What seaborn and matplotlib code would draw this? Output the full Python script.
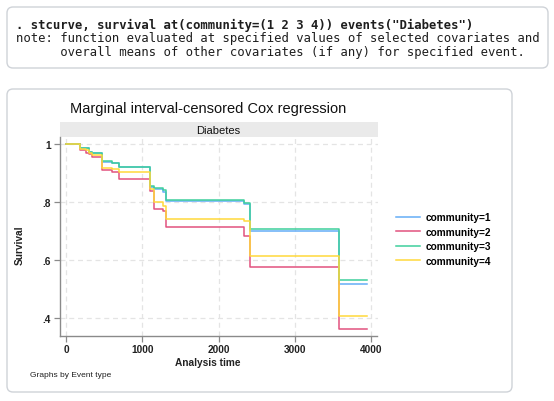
import matplotlib
matplotlib.use("Agg")
import matplotlib.pyplot as plt
import seaborn as sns
import pandas as pd
from matplotlib.patches import FancyBboxPatch, Rectangle
from matplotlib.transforms import IdentityTransform

# ---- data ----
times = [0, 184, 258, 300, 340, 468, 600, 700, 1102, 1150, 1270, 1310, 2327, 2405, 3574, 3945]
surv_c1 = [1, .985, .985, .971, .969, .939, .933, .920, .852, .845, .836, .803, .793, .699, .518, .518]
surv_c2 = [1, .980, .968, .965, .954, .911, .904, .879, .839, .776, .770, .713, .684, .575, .362, .362]
surv_c3 = [1, .985, .985, .972, .970, .940, .935, .922, .855, .848, .840, .807, .797, .707, .531, .531]
surv_c4 = [1, .982, .978, .970, .962, .917, .912, .904, .845, .800, .787, .741, .733, .613, .407, .407]
communities = ["community=1", "community=2", "community=3", "community=4"]
x_ticks = [0, 1000, 2000, 3000, 4000]
y_ticks = [0.4, 0.6, 0.8, 1.0]
y_ticklabels = [".4", ".6", ".8", "1"]
colors = ["#64adf7", "#e2527f", "#3fcf9c", "#ffd93a"]

rows = []
for name, vals in zip(communities, [surv_c1, surv_c2, surv_c3, surv_c4]):
    for t, s in zip(times, vals):
        rows.append({"time": t, "surv": s, "community": name})
df = pd.DataFrame(rows)

W, H = 554, 402
fig = plt.figure(figsize=(W / 100, H / 100), dpi=100)
plt.rcParams["font.family"] = ["Liberation Sans", "DejaVu Sans"]

def fx(px):
    return px / W

def fy(py):
    return 1 - py / H

# ---- top command box ----
box1 = FancyBboxPatch((7, H - 69), 541, 61, boxstyle="round,pad=0,rounding_size=6",
                      transform=IdentityTransform(), facecolor="white",
                      edgecolor="#cfd3d8", linewidth=1.0, zorder=-10)
fig.patches.append(box1)
mono = ["DejaVu Sans Mono"]
fig.text(fx(16), fy(25.5), '. stcurve, survival at(community=(1 2 3 4)) events("Diabetes")',
         family=mono, fontsize=8.8, fontweight="bold", color="#1e1e1e", va="center")
fig.text(fx(16), fy(38.5), "note: function evaluated at specified values of selected covariates and",
         family=mono, fontsize=8.8, color="#1e1e1e", va="center")
fig.text(fx(16), fy(52.5), "      overall means of other covariates (if any) for specified event.",
         family=mono, fontsize=8.8, color="#1e1e1e", va="center")

# ---- graph panel box ----
box2 = FancyBboxPatch((7, H - 393), 505, 303, boxstyle="round,pad=0,rounding_size=6",
                      transform=IdentityTransform(), facecolor="white",
                      edgecolor="#cfd3d8", linewidth=1.0, zorder=-10)
fig.patches.append(box2)

# ---- axes ----
L, R, T, B = 59.5, 377.5, 138, 337
ax = fig.add_axes([fx(L), fy(B), fx(R) - fx(L), fy(T) - fy(B)])
ax.set_zorder(5)
ax.patch.set_alpha(0)

sns.lineplot(data=df, x="time", y="surv", hue="community", palette=colors,
             drawstyle="steps-post", estimator=None, sort=False, linewidth=1.1,
             ax=ax, legend=True)

ax.set_xlim(-85, 4082)
ax.set_ylim(0.338, 1.024)
ax.set_xticks(x_ticks)
ax.set_xticklabels([str(v) for v in x_ticks])
ax.set_yticks(y_ticks)
ax.set_yticklabels(y_ticklabels)
for sp in ["top", "right"]:
    ax.spines[sp].set_visible(False)
for sp in ["left", "bottom"]:
    ax.spines[sp].set_color("#8a8a8a")
    ax.spines[sp].set_linewidth(1.0)
ax.tick_params(axis="both", direction="out", length=4, width=0.9, color="#8a8a8a",
               labelsize=7.3, labelcolor="#222222", pad=2)
for lab in ax.get_xticklabels() + ax.get_yticklabels():
    lab.set_fontweight("bold")
ax.grid(True, color="#e4e4e4", linestyle=(0, (4, 3)), linewidth=0.9)
ax.set_axisbelow(True)
ax.set_xlabel("")
ax.set_ylabel("")

# legend
handles, labels = ax.get_legend_handles_labels()
ax.legend(handles, labels, loc="center left", bbox_to_anchor=(fx(396), fy(240)),
          bbox_transform=fig.transFigure, frameon=False,
          handlelength=2.35, handletextpad=0.6, labelspacing=0.45,
          borderpad=0, borderaxespad=0, prop={"weight": "bold", "size": 7.3})

# strip
strip = Rectangle((fx(L), fy(T)), fx(R) - fx(L), fy(123) - fy(T), transform=fig.transFigure,
                  facecolor="#eaeaea", edgecolor="none")
fig.patches.append(strip)
fig.text(fx(218.5), fy(130.5), "Diabetes", fontsize=8, color="#111111", ha="center", va="center")

# titles
fig.text(fx(208.5), fy(109), "Marginal interval-censored Cox regression", fontsize=10.5,
         color="#111111", ha="center", va="center")
fig.text(fx(208), fy(363), "Analysis time", fontsize=7.3, fontweight="bold",
         color="#222222", ha="center", va="center")
fig.text(fx(20), fy(245), "Survival", fontsize=7.3, fontweight="bold", rotation=90,
         color="#222222", ha="center", va="center")
fig.text(fx(30.5), fy(375.5), "Graphs by Event type", fontsize=6, color="#222222",
         ha="left", va="center")

fig.savefig("out.png", dpi=100, facecolor="white")
